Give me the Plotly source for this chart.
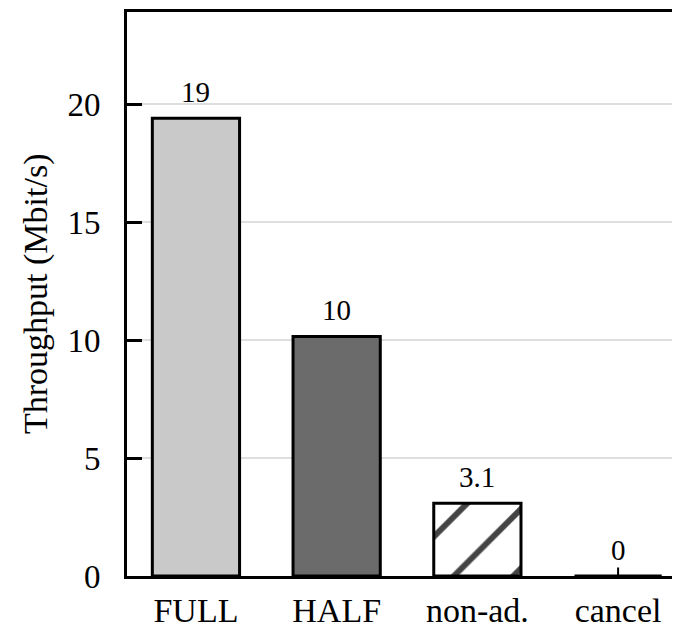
import plotly.graph_objects as go

categories = ["FULL", "HALF", "non-ad.", "cancel"]
throughput = [19.4, 10.15, 3.08, 0.0]
value_labels = ["19", "10", "3.1", "0"]
bar_colors = ["#c9c9c9", "#6b6b6b", "#ffffff", "#ffffff"]
pattern_shapes = ["", "", "/", ""]
y_ticks = [0, 5, 10, 15, 20]

SERIF = "Liberation Serif, Times New Roman, serif"

fig = go.Figure()
fig.add_trace(go.Bar(
    x=list(range(len(categories))),
    y=throughput,
    width=0.62,
    marker=dict(
        color=bar_colors,
        line=dict(color="black", width=3),
        pattern=dict(shape=pattern_shapes, fgcolor="black", fgopacity=1,
                     bgcolor=bar_colors, size=42, solidity=0.14),
    ),
    hoverinfo="skip",
))

for i, (v, lab) in enumerate(zip(throughput, value_labels)):
    if v > 0:
        fig.add_annotation(x=i, y=v, text=lab, showarrow=False,
                           yanchor="middle", yshift=26,
                           font=dict(family=SERIF, size=29, color="black"))
    else:
        fig.add_annotation(x=i, y=v, text=lab, showarrow=True,
                           arrowhead=0, arrowwidth=2, arrowcolor="black",
                           ax=0, ay=-26,
                           font=dict(family=SERIF, size=29, color="black"))

fig.add_annotation(xref="paper", yref="paper", x=0, y=0.5, xshift=-91,
                   text="Throughput (Mbit/s)", textangle=-90, showarrow=False,
                   xanchor="center", yanchor="middle",
                   font=dict(family=SERIF, size=34, color="black"))

# page body has an 8px default margin; compensate so the plot lands where the reference has it
fig.update_layout(
    width=672, height=621,
    margin=dict(l=119, r=0, t=4, b=46),
    plot_bgcolor="white", paper_bgcolor="white",
    showlegend=False,
    xaxis=dict(
        range=[-0.49, 3.44],
        tickvals=list(range(len(categories))),
        ticktext=categories,
        showline=True, linecolor="black", linewidth=3, mirror=True,
        ticks="", showgrid=False, zeroline=False,
        ticklabelstandoff=2,
        tickfont=dict(family=SERIF, size=34, color="black"),
    ),
    yaxis=dict(
        range=[0, 23.9],
        tickvals=y_ticks,
        showline=True, linecolor="black", linewidth=3,
        ticks="inside", ticklen=15, tickwidth=2.5, tickcolor="black",
        showgrid=True, gridcolor="#dedede", gridwidth=2,
        zeroline=False,
        ticklabelstandoff=17,
        tickfont=dict(family=SERIF, size=33, color="black"),
    ),
)

fig.write_html("out.html")
